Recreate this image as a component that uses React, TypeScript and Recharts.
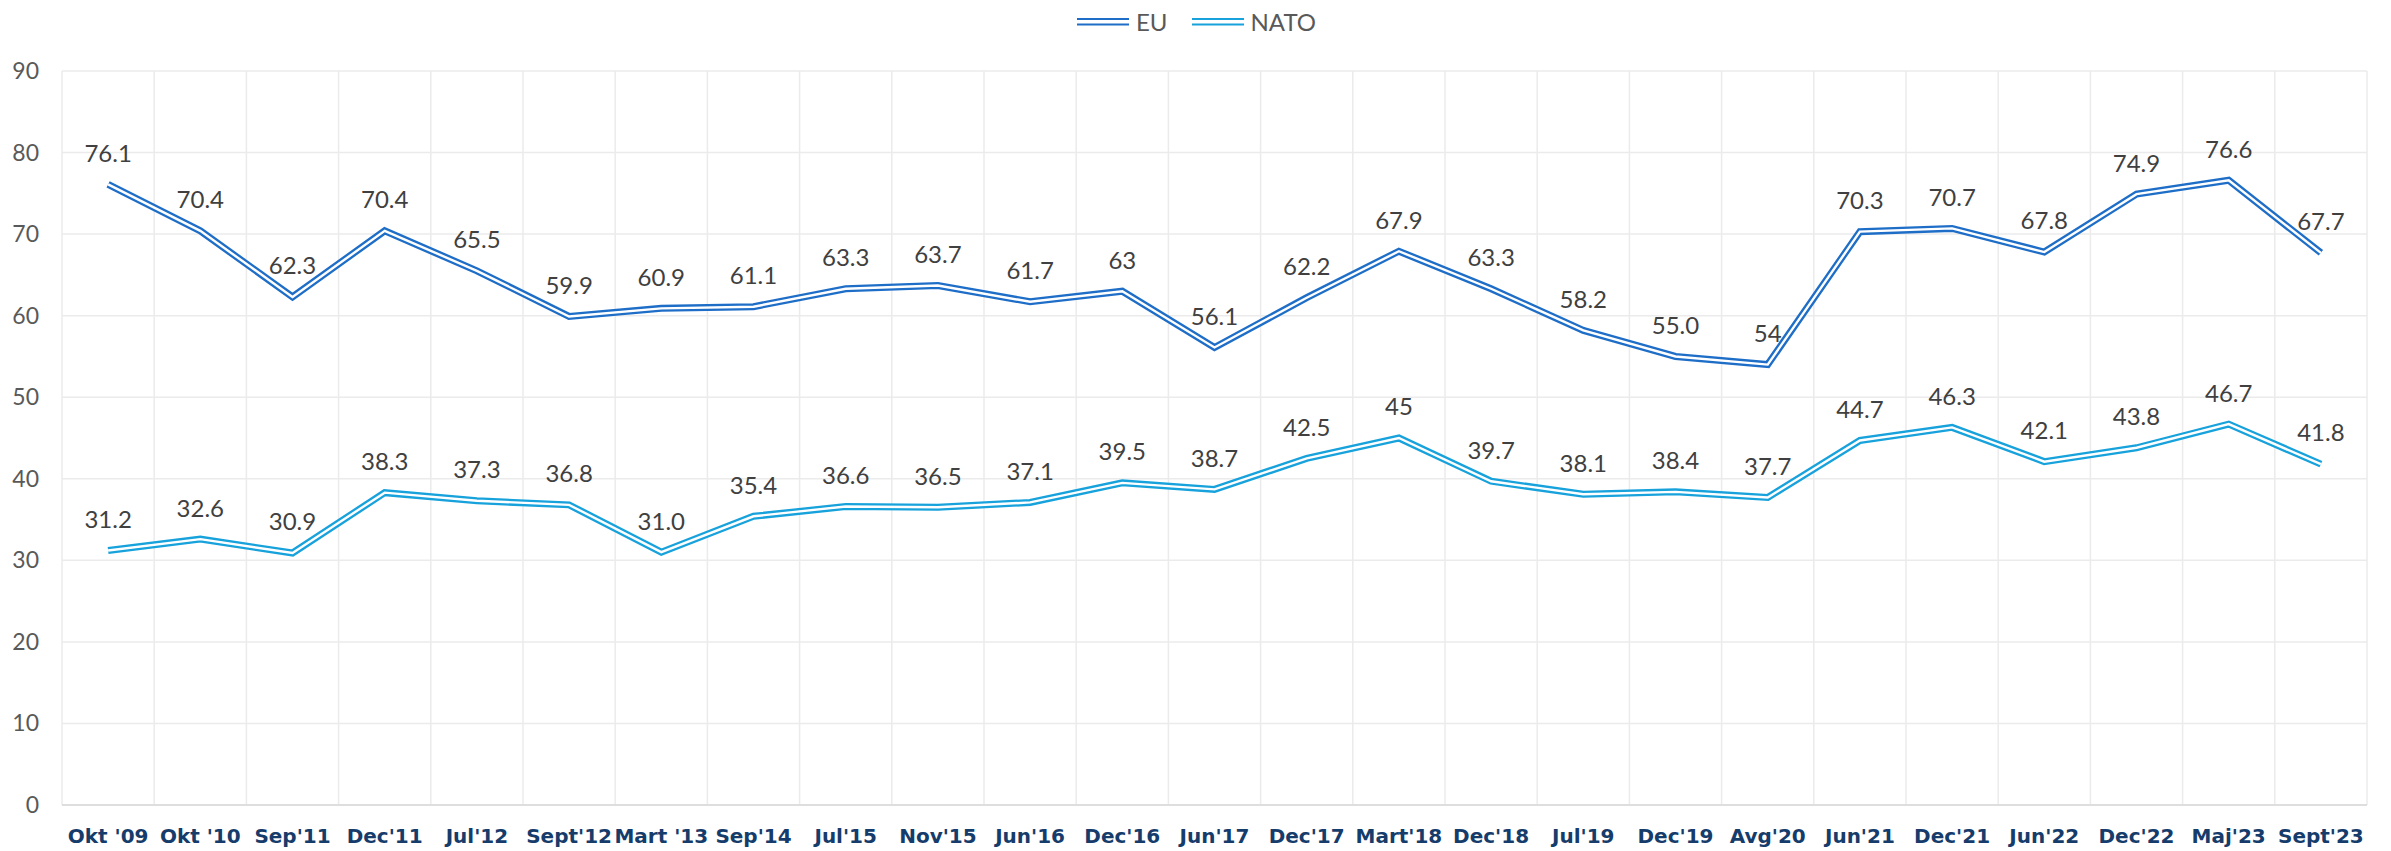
import React from "react";
import { LineChart, Line, XAxis, YAxis, CartesianGrid, LabelList } from "recharts";

const categories = [
  "Okt '09", "Okt '10", "Sep'11", "Dec'11", "Jul'12", "Sept'12", "Mart '13", "Sep'14", "Jul'15", "Nov'15",
  "Jun'16", "Dec'16", "Jun'17", "Dec'17", "Mart'18", "Dec'18", "Jul'19", "Dec'19", "Avg'20", "Jun'21",
  "Dec'21", "Jun'22", "Dec'22", "Maj'23", "Sept'23",
];
const euValues = [76.1, 70.4, 62.3, 70.4, 65.5, 59.9, 60.9, 61.1, 63.3, 63.7, 61.7, 63, 56.1, 62.2, 67.9, 63.3, 58.2, 55.0, 54, 70.3, 70.7, 67.8, 74.9, 76.6, 67.7];
const euLabels = ["76.1", "70.4", "62.3", "70.4", "65.5", "59.9", "60.9", "61.1", "63.3", "63.7", "61.7", "63", "56.1", "62.2", "67.9", "63.3", "58.2", "55.0", "54", "70.3", "70.7", "67.8", "74.9", "76.6", "67.7"];
const natoValues = [31.2, 32.6, 30.9, 38.3, 37.3, 36.8, 31.0, 35.4, 36.6, 36.5, 37.1, 39.5, 38.7, 42.5, 45, 39.7, 38.1, 38.4, 37.7, 44.7, 46.3, 42.1, 43.8, 46.7, 41.8];
const natoLabels = ["31.2", "32.6", "30.9", "38.3", "37.3", "36.8", "31.0", "35.4", "36.6", "36.5", "37.1", "39.5", "38.7", "42.5", "45", "39.7", "38.1", "38.4", "37.7", "44.7", "46.3", "42.1", "43.8", "46.7", "41.8"];
const yTicks = [0, 10, 20, 30, 40, 50, 60, 70, 80, 90];

const series = [
  { key: "eu", name: "EU", color: "#1E6EC8", labels: euLabels },
  { key: "nato", name: "NATO", color: "#17A2DC", labels: natoLabels },
];

const data = categories.map((c, i) => ({
  cat: c,
  eu: euValues[i],
  nato: natoValues[i],
}));

const W = 2383;
const H = 843;
const NUM_FONT = "Lato, 'Liberation Sans', sans-serif";

const XTick = (props: any) => {
  const { x, y, payload } = props;
  return (
    <text x={x} y={y + 31} dy="0.35em" textAnchor="middle" fontFamily="'DejaVu Sans', sans-serif" fontWeight="bold" fontSize={20} fill="#163C6B">
      {payload.value}
    </text>
  );
};

const YTick = (props: any) => {
  const { x, y, payload } = props;
  return (
    <text x={x - 23} y={y} dy="0.35em" textAnchor="end" fontFamily={NUM_FONT} fontSize={23} fill="#595959">
      {payload.value}
    </text>
  );
};

const makeLabel = (labels: string[]) => (props: any) => {
  const { x, y, width, index } = props;
  const cx = x + (width || 0) / 2;
  return (
    <text x={cx} y={y - 31} dy="0.35em" textAnchor="middle" fontFamily={NUM_FONT} fontSize={24} fill="#404040">
      {labels[index]}
    </text>
  );
};

const LegendIcon = ({ color }: { color: string }) => (
  <svg width={52} height={12} style={{ display: "block" }}>
    <line x1={0} x2={52} y1={3} y2={3} stroke={color} strokeWidth={2.2} />
    <line x1={0} x2={52} y1={8.5} y2={8.5} stroke={color} strokeWidth={2.2} />
  </svg>
);

export default function App() {
  return (
    <div style={{ position: "relative", width: W, height: H, background: "#fff" }}>
      <div
        style={{
          position: "absolute",
          top: 0,
          left: 0,
          width: W,
          height: 24,
          display: "flex",
          justifyContent: "center",
          alignItems: "center",
          paddingRight: 6,
          boxSizing: "border-box",
          fontFamily: NUM_FONT,
          fontSize: 24,
          color: "#595959",
          zIndex: 2,
        }}
      >
        {series.map((s, i) => (
          <div key={s.key} style={{ display: "flex", alignItems: "center", marginLeft: i === 0 ? 0 : 24, marginTop: 4 }}>
            <LegendIcon color={s.color} />
            <span style={{ marginLeft: 7, lineHeight: "24px" }}>{s.name}</span>
          </div>
        ))}
      </div>
      <LineChart width={W} height={H} data={data} margin={{ top: 63, right: 24, bottom: 6, left: 0 }}>
        <CartesianGrid
          stroke="#EBEBEB"
          strokeWidth={1.5}
          verticalCoordinatesGenerator={({ offset }: any) =>
            Array.from({ length: categories.length + 1 }, (_, i) => offset.left + (i * offset.width) / categories.length)
          }
        />
        <XAxis
          dataKey="cat"
          scale="band"
          interval={0}
          height={40}
          tickLine={false}
          tickSize={0}
          tickMargin={0}
          axisLine={{ stroke: "#D9D9D9", strokeWidth: 1.5 }}
          tick={<XTick />}
        />
        <YAxis
          domain={[0, 90]}
          ticks={yTicks}
          width={54}
          axisLine={false}
          tickLine={false}
          tickSize={0}
          tickMargin={0}
          tick={<YTick />}
        />
        {series.map((s) => (
          <Line
            key={s.key + "-outer"}
            type="linear"
            dataKey={s.key}
            stroke={s.color}
            strokeWidth={7}
            strokeLinejoin="miter"
            dot={false}
            activeDot={false}
            isAnimationActive={false}
          />
        ))}
        {series.map((s) => (
          <Line
            key={s.key + "-inner"}
            type="linear"
            dataKey={s.key}
            stroke="#FFFFFF"
            strokeWidth={2.4}
            strokeLinejoin="miter"
            dot={false}
            activeDot={false}
            isAnimationActive={false}
          >
            <LabelList dataKey={s.key} content={makeLabel(s.labels)} />
          </Line>
        ))}
      </LineChart>
    </div>
  );
}
